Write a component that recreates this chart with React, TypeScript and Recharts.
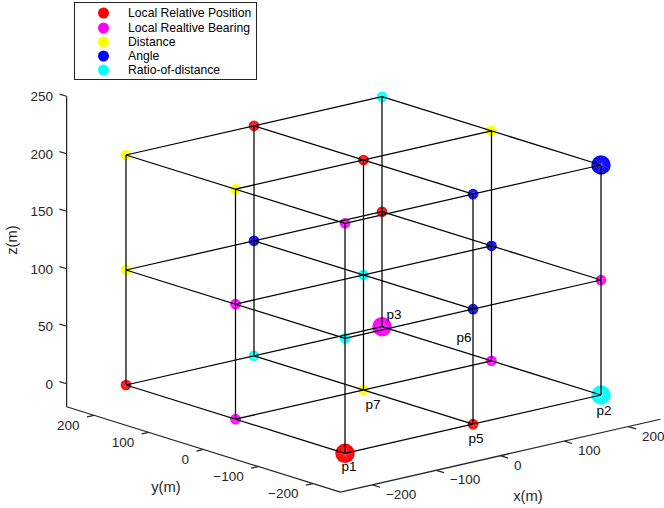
import React from 'react';
import { ScatterChart, Scatter, XAxis, YAxis, Legend } from 'recharts';

type P3 = { x: number; y: number; z: number; big?: boolean };

// ---------- data ----------
const gridX = [-200, 0, 200];
const gridY = [-200, 0, 200];
const gridZ = [0, 100, 200];

const xLim = [-250, 250];
const yLim = [-250, 250];
const zLim = [-20, 250];

const xTicks = [-200, -100, 0, 100, 200];
const yTicks = [-200, -100, 0, 100, 200];
const zTicks = [0, 50, 100, 150, 200, 250];

const localRelativePosition: P3[] = [
  { x: -200, y: -200, z: 0, big: true },
  { x: 0, y: -200, z: 0 },
  { x: -200, y: 200, z: 0 },
  { x: 200, y: 200, z: 100 },
  { x: 0, y: 0, z: 200 },
  { x: 0, y: 200, z: 200 },
];
const localRelativeBearing: P3[] = [
  { x: -200, y: 0, z: 0 },
  { x: 200, y: 0, z: 0 },
  { x: 200, y: 200, z: 0, big: true },
  { x: 200, y: -200, z: 100 },
  { x: -200, y: 0, z: 100 },
  { x: -200, y: -200, z: 200 },
];
const distance: P3[] = [
  { x: 0, y: 0, z: 0 },
  { x: -200, y: 200, z: 100 },
  { x: -200, y: 0, z: 200 },
  { x: 200, y: 0, z: 200 },
  { x: -200, y: 200, z: 200 },
];
const angle: P3[] = [
  { x: 0, y: -200, z: 100 },
  { x: 200, y: 0, z: 100 },
  { x: 0, y: 200, z: 100 },
  { x: 0, y: -200, z: 200 },
  { x: 200, y: -200, z: 200, big: true },
];
const ratioOfDistance: P3[] = [
  { x: 200, y: -200, z: 0, big: true },
  { x: 0, y: 200, z: 0 },
  { x: -200, y: -200, z: 100 },
  { x: 0, y: 0, z: 100 },
  { x: 200, y: 200, z: 200 },
];

const seriesNames = [
  'Local Relative Position',
  'Local Realtive Bearing',
  'Distance',
  'Angle',
  'Ratio-of-distance',
];
const seriesData = [localRelativePosition, localRelativeBearing, distance, angle, ratioOfDistance];

const pointLabels = [
  { text: 'p1', x: -200, y: -200, z: 0 },
  { text: 'p2', x: 200, y: -200, z: 0 },
  { text: 'p3', x: 200, y: 200, z: 0 },
  { text: 'p5', x: 0, y: -200, z: 0 },
  { text: 'p6', x: 200, y: 0, z: 0 },
  { text: 'p7', x: 0, y: 0, z: 0 },
];

// ---------- styles / view ----------
const COLORS = ['#ff0000', '#ff00ff', '#ffff00', '#0000ff', '#00ffff'];
const FONT = '"Liberation Sans", Arial, Helvetica, sans-serif';
const AXIS_COLOR = '#262626';
const W = 664;
const H = 508;

// linear view transform (camera) from data space to screen plane
const VIEW = { u0: 363.5, v0: 390, ux: 0.64, uy: -0.5475, vx: -0.1458, vy: -0.1708, vz: -1.15 };
const proj = (x: number, y: number, z: number) => ({
  u: VIEW.u0 + VIEW.ux * x + VIEW.uy * y,
  v: VIEW.v0 + VIEW.vx * x + VIEW.vy * y + VIEW.vz * z,
});

const LABEL_OFFSETS: Record<string, [number, number]> = {
  p1: [4, 13],
  p2: [3, 15],
  p3: [12, -12.5],
  p5: [3, 14],
  p6: [-27.5, -23],
  p7: [9.5, 14],
};
const TICK_LEN = { x: 14, y: 11, z: 13 };
const LINE_W = 1.25;

// ---------- build segments ----------
type Seg = { a: [number, number, number]; b: [number, number, number]; color: string };
const segments: Seg[] = [];
gridY.forEach((y) => gridZ.forEach((z) => segments.push({ a: [gridX[0], y, z], b: [gridX[gridX.length - 1], y, z], color: '#000' })));
gridX.forEach((x) => gridZ.forEach((z) => segments.push({ a: [x, gridY[0], z], b: [x, gridY[gridY.length - 1], z], color: '#000' })));
gridX.forEach((x) => gridY.forEach((y) => segments.push({ a: [x, y, gridZ[0]], b: [x, y, gridZ[gridZ.length - 1]], color: '#000' })));

const axisSegs: Seg[] = [
  { a: [xLim[0], yLim[0], zLim[0]], b: [xLim[1], yLim[0], zLim[0]], color: AXIS_COLOR },
  { a: [xLim[0], yLim[0], zLim[0]], b: [xLim[0], yLim[1], zLim[0]], color: AXIS_COLOR },
  { a: [xLim[0], yLim[1], zLim[0]], b: [xLim[0], yLim[1], zLim[1]], color: AXIS_COLOR },
];
xTicks.forEach((t) => axisSegs.push({ a: [t, yLim[0], zLim[0]], b: [t, yLim[0] - TICK_LEN.x, zLim[0]], color: AXIS_COLOR }));
yTicks.forEach((t) => axisSegs.push({ a: [xLim[0], t, zLim[0]], b: [xLim[0] - TICK_LEN.y, t, zLim[0]], color: AXIS_COLOR }));
zTicks.forEach((t) => axisSegs.push({ a: [xLim[0], yLim[1], t], b: [xLim[0], yLim[1] + TICK_LEN.z, t], color: AXIS_COLOR }));

const segData = (s: Seg) => [proj(...s.a), proj(...s.b)];

// tick label data
const fmt = (n: number) => (n < 0 ? '\u2212' + Math.abs(n) : String(n));
const xTickData = xTicks.map((t) => ({ ...proj(t, yLim[0], zLim[0]), text: fmt(t) }));
const yTickData = yTicks.map((t) => ({ ...proj(xLim[0], t, zLim[0]), text: fmt(t) }));
const zTickData = zTicks.map((t) => ({ ...proj(xLim[0], yLim[1], t), text: fmt(t) }));
const xTitle = [{ ...proj(0, yLim[0], zLim[0]), text: 'x(m)' }];
const yTitle = [{ ...proj(xLim[0], 0, zLim[0]), text: 'y(m)' }];
const zTitle = [{ ...proj(xLim[0], yLim[1], (zLim[0] + zLim[1]) / 2), text: 'z(m)' }];
const pLabelData = pointLabels.map((p) => ({ ...proj(p.x, p.y, p.z), text: p.text }));

// ---------- shapes ----------
const Empty = () => <g />;

const Marker = (props: any) => {
  const { cx, cy, payload, color } = props;
  if (cx == null || cy == null) return <g />;
  const r = payload && payload.big ? 9.7 : 5.3;
  const rays = [];
  for (let k = 0; k < 8; k++) {
    const a = (k * Math.PI) / 8;
    rays.push(
      <line
        key={k}
        x1={cx - r * 0.9 * Math.cos(a)}
        y1={cy - r * 0.9 * Math.sin(a)}
        x2={cx + r * 0.9 * Math.cos(a)}
        y2={cy + r * 0.9 * Math.sin(a)}
        stroke="#ffffff"
        strokeOpacity={0.28}
        strokeWidth={0.6}
      />
    );
  }
  return (
    <g>
      <circle cx={cx} cy={cy} r={r} fill={color} />
      {rays}
    </g>
  );
};

const makeText = (dx: number, dy: number, anchor: string, size: number, rotate = false) => (props: any) => {
  const { cx, cy, payload } = props;
  if (cx == null || cy == null) return <g />;
  const x = cx + dx;
  const y = cy + dy;
  return (
    <text
      x={x}
      y={y}
      textAnchor={anchor}
      dominantBaseline="central"
      fontFamily={FONT}
      fontSize={size}
      fill={AXIS_COLOR}
      transform={rotate ? `rotate(-90 ${x} ${y})` : undefined}
    >
      {payload.text}
    </text>
  );
};

const PointLabel = (props: any) => {
  const { cx, cy, payload } = props;
  if (cx == null || cy == null) return <g />;
  const off = LABEL_OFFSETS[payload.text] || [0, 0];
  return (
    <text x={cx + off[0]} y={cy + off[1]} textAnchor="middle" dominantBaseline="central" fontFamily={FONT} fontSize={13.5} fill="#000">
      {payload.text}
    </text>
  );
};

const LegendBox = () => (
  <div
    style={{
      width: 183,
      height: 78,
      boxSizing: 'border-box',
      border: '1px solid #262626',
      background: '#fff',
      position: 'relative',
      fontFamily: FONT,
      fontSize: 12.2,
      color: '#000',
    }}
  >
    {seriesNames.map((n, i) => (
      <div key={n} style={{ position: 'absolute', left: 0, top: 10.3 + i * 14.25 - 8, height: 16, width: '100%' }}>
        <svg width={20} height={16} style={{ position: 'absolute', left: 22.5, top: 0 }}>
          <circle cx={5.5} cy={8} r={5.5} fill={COLORS[i]} />
        </svg>
        <span style={{ position: 'absolute', left: 53, top: 0, lineHeight: '16px', whiteSpace: 'nowrap' }}>{n}</span>
      </div>
    ))}
  </div>
);

export default function App() {
  return (
    <div style={{ position: 'absolute', left: 0, top: 0, width: W, height: H, background: '#fff' }}>
      <ScatterChart width={W} height={H} margin={{ top: 0, right: 0, bottom: 0, left: 0 }}>
        <XAxis type="number" dataKey="u" domain={[0, W]} allowDataOverflow hide />
        <YAxis type="number" dataKey="v" domain={[0, H]} allowDataOverflow reversed hide />
        <Legend
          layout="vertical"
          align="center"
          verticalAlign="middle"
          content={() => <LegendBox />}
          wrapperStyle={{ left: 74, top: 2, width: 183, height: 78 }}
        />
        {seriesData.map((arr, i) => (
          <Scatter
            key={seriesNames[i]}
            name={seriesNames[i]}
            data={arr.map((p) => ({ ...proj(p.x, p.y, p.z), big: !!p.big }))}
            fill={COLORS[i]}
            shape={(p: any) => <Marker {...p} color={COLORS[i]} />}
            isAnimationActive={false}
          />
        ))}
        {segments.map((s, i) => (
          <Scatter
            key={'g' + i}
            data={segData(s)}
            line={{ stroke: s.color, strokeWidth: LINE_W }}
            shape={Empty}
            legendType="none"
            isAnimationActive={false}
          />
        ))}
        {axisSegs.map((s, i) => (
          <Scatter
            key={'a' + i}
            data={segData(s)}
            line={{ stroke: s.color, strokeWidth: LINE_W }}
            shape={Empty}
            legendType="none"
            isAnimationActive={false}
          />
        ))}
        <Scatter data={xTickData} shape={makeText(13.5, 9.5, 'start', 13.5)} legendType="none" isAnimationActive={false} />
        <Scatter data={yTickData} shape={makeText(-14.5, 10, 'end', 13.5)} legendType="none" isAnimationActive={false} />
        <Scatter data={zTickData} shape={makeText(-13.5, 0.5, 'end', 13.5)} legendType="none" isAnimationActive={false} />
        <Scatter data={xTitle} shape={makeText(27.6, 40.3, 'middle', 14.8)} legendType="none" isAnimationActive={false} />
        <Scatter data={yTitle} shape={makeText(-37.5, 37.5, 'middle', 14.8)} legendType="none" isAnimationActive={false} />
        <Scatter data={zTitle} shape={makeText(-54.6, -11.5, 'middle', 14.8, true)} legendType="none" isAnimationActive={false} />
        <Scatter data={pLabelData} shape={PointLabel} legendType="none" isAnimationActive={false} />
      </ScatterChart>
    </div>
  );
}
